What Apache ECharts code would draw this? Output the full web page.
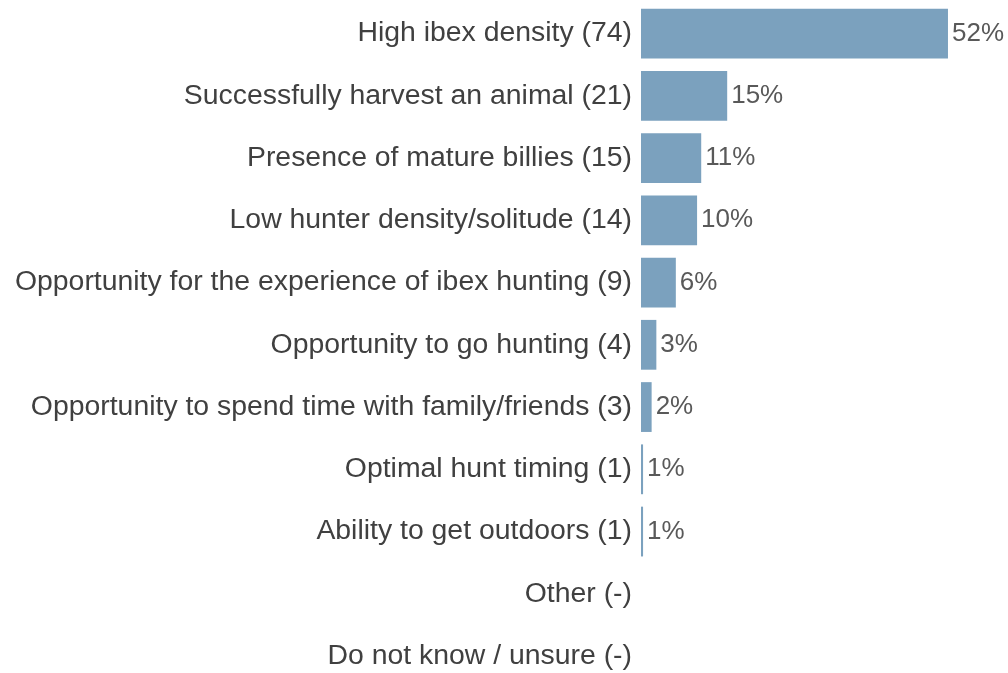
<!DOCTYPE html>
<html>
<head>
<meta charset="utf-8">
<script src="https://cdn.jsdelivr.net/npm/echarts@6/dist/echarts.min.js"></script>
<style>html,body{margin:0;padding:0;background:#fff;}#c{width:1008px;height:673px;}</style>
</head>
<body>
<div id="c"></div>
<script>
const categories = [
  "High ibex density (74)",
  "Successfully harvest an animal (21)",
  "Presence of mature billies (15)",
  "Low hunter density/solitude (14)",
  "Opportunity for the experience of ibex hunting (9)",
  "Opportunity to go hunting (4)",
  "Opportunity to spend time with family/friends (3)",
  "Optimal hunt timing (1)",
  "Ability to get outdoors (1)",
  "Other (-)",
  "Do not know / unsure (-)"
];
const values = [52, 14.6, 10.2, 9.5, 5.9, 2.6, 1.8, 0.35, 0.35, null, null];
const valueLabels = ["52%", "15%", "11%", "10%", "6%", "3%", "2%", "1%", "1%", "", ""];

const chart = echarts.init(document.getElementById('c'), null, {renderer: 'canvas'});
chart.setOption({
  animation: false,
  backgroundColor: '#ffffff',
  grid: {left: 641, top: 2.4, width: 354.2, height: 684.8, containLabel: false, outerBoundsMode: 'none'},
  xAxis: {
    type: 'value', min: 0, max: 60, show: false
  },
  yAxis: {
    type: 'category', data: categories, inverse: true,
    axisLine: {show: false}, axisTick: {show: false}, splitLine: {show: false},
    axisLabel: {
      margin: 9, fontSize: 28.4, color: '#404040',
      fontFamily: '"Liberation Sans", Arial, sans-serif'
    }
  },
  series: [{
    type: 'bar',
    data: values,
    barCategoryGap: '20%',
    itemStyle: {color: '#7ba1be'},
    label: {
      show: true, position: 'right', distance: 4,
      fontSize: 26, color: '#595959',
      fontFamily: '"Liberation Sans", Arial, sans-serif',
      formatter: p => valueLabels[p.dataIndex]
    }
  }]
});
</script>
</body>
</html>
